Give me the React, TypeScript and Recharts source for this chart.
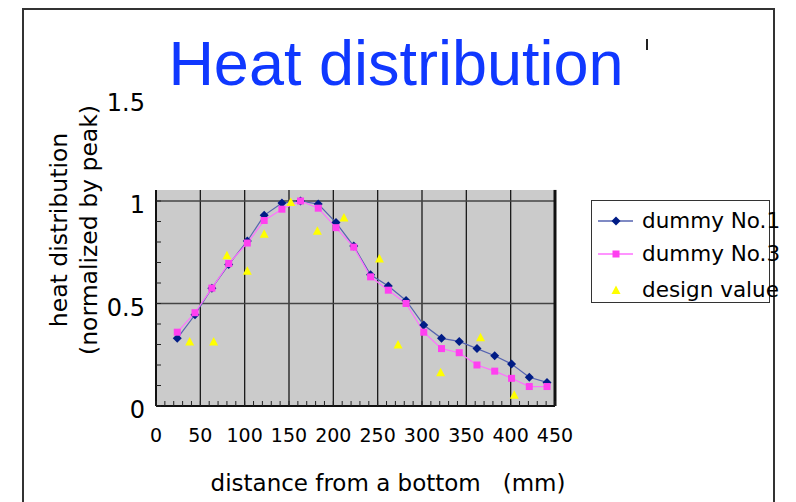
/**
 * Heat distribution chart
 * Two measured dummies against the design value, normalized by peak
 */

import {
  ComposedChart,
  Legend,
  Line,
  ReferenceArea,
  ReferenceLine,
  Scatter,
  XAxis,
  YAxis,
} from "recharts"

/******************************************************************************
                              Data
******************************************************************************/

const positions = [
  24, 44, 63, 82, 103, 122, 142, 163, 183, 203, 223, 242, 262, 282, 302, 322,
  342, 362, 382, 401, 421, 441,
]
const dummy1 = [
  0.33, 0.445, 0.575, 0.69, 0.805, 0.93, 0.99, 1.0, 0.985, 0.895, 0.78, 0.64,
  0.585, 0.515, 0.395, 0.33, 0.315, 0.28, 0.245, 0.205, 0.14, 0.115,
]
const dummy3 = [
  0.36, 0.455, 0.575, 0.695, 0.795, 0.905, 0.96, 1.0, 0.965, 0.87, 0.775, 0.63,
  0.565, 0.5, 0.36, 0.28, 0.26, 0.2, 0.17, 0.135, 0.095, 0.095,
]
const designPositions = [38, 65, 80, 103, 122, 152, 182, 212, 252, 273, 321, 366, 404]
const designValues = [
  0.315, 0.315, 0.735, 0.66, 0.84, 0.995, 0.855, 0.92, 0.72, 0.3, 0.165, 0.335,
  0.055,
]

const xTickLabels = [0, 50, 100, 150, 200, 250, 300, 350, 400, 450]
const yTickLabels = [0, 0.5, 1, 1.5]

/******************************************************************************
                              Constants
******************************************************************************/

const FONT = "'DejaVu Sans', sans-serif"
const PLOT_TOP = 1.054
const NAVY = "#001c86"
const NAVY_LINE = "#5563b0"
const PINK = "#ff40f0"
const PINK_LINE = "#ff70ff"
const YELLOW = "#ffff00"

const dummy1Data = positions.map((x, i) => ({ x, y: dummy1[i] }))
const dummy3Data = positions.map((x, i) => ({ x, y: dummy3[i] }))
const designData = designPositions.map((x, i) => ({ x, y: designValues[i] }))

const xMinor = Array.from({ length: 46 }, (_, i) => i * 10)
const yMinor = [...Array.from({ length: 11 }, (_, i) => i / 10), 1.5]

/******************************************************************************
                              Markers
******************************************************************************/

function diamond(props: any) {
  const { cx, cy, index } = props
  if (cx == null || cy == null) return <g key={`d1-${index}`} />
  const r = 4.5
  return (
    <path
      key={`d1-${index}`}
      d={`M${cx},${cy - r}L${cx + r},${cy}L${cx},${cy + r}L${cx - r},${cy}Z`}
      fill={NAVY}
    />
  )
}

function square(props: any) {
  const { cx, cy, index } = props
  if (cx == null || cy == null) return <g key={`d3-${index}`} />
  return <rect key={`d3-${index}`} x={cx - 3.5} y={cy - 3.5} width={7} height={7} fill={PINK} />
}

function triangle(props: any) {
  const { cx, cy } = props
  if (cx == null || cy == null) return <g />
  return (
    <path
      d={`M${cx},${cy - 4.5}L${cx + 4.5},${cy + 4}L${cx - 4.5},${cy + 4}Z`}
      fill={YELLOW}
    />
  )
}

/******************************************************************************
                              Axis ticks
******************************************************************************/

function XTick(props: any) {
  const { x, y, payload } = props
  const v = payload.value
  return (
    <g>
      <line x1={x} x2={x} y1={y} y2={y - 5} stroke="#222" />
      {xTickLabels.includes(v) && (
        <text x={x} y={y + 36} textAnchor="middle" fontSize={19} fontFamily={FONT} fill="#000">
          {v}
        </text>
      )}
    </g>
  )
}

function YTick(props: any) {
  const { x, y, payload } = props
  const v = payload.value
  return (
    <g>
      {v <= 1 && <line x1={x} x2={x + 5} y1={y} y2={y} stroke="#222" />}
      {yTickLabels.includes(v) && (
        <text x={x - 11} y={y + 12} textAnchor="end" fontSize={24} fontFamily={FONT} fill="#000">
          {v}
        </text>
      )}
    </g>
  )
}

/******************************************************************************
                              Legend
******************************************************************************/

const legendItems = [
  { name: "dummy No.1", line: NAVY_LINE, marker: "diamond" },
  { name: "dummy No.3", line: PINK_LINE, marker: "square" },
  { name: "design value", line: "none", marker: "triangle" },
]

function LegendBox() {
  const rows = [20, 53, 89]
  return (
    <div
      style={{
        position: "relative",
        width: 179,
        height: 103,
        boxSizing: "border-box",
        border: "1.5px solid #333",
        background: "#fff",
        fontFamily: FONT,
        fontSize: 21.5,
        whiteSpace: "nowrap",
      }}
    >
      {legendItems.map((item, i) => (
        <div key={item.name} style={{ position: "absolute", left: 0, top: rows[i] - 16, height: 32 }}>
          <svg width={44} height={32} style={{ position: "absolute", left: 6, top: 0 }}>
            {item.line !== "none" && <line x1={0} x2={35} y1={16} y2={16} stroke={item.line} strokeWidth={1.5} />}
            {item.marker === "diamond" && <path d="M18,11.5L22.5,16L18,20.5L13.5,16Z" fill={NAVY} />}
            {item.marker === "square" && <rect x={14.5} y={12.5} width={7} height={7} fill={PINK} />}
            {item.marker === "triangle" && <path d="M18,11.5L22.5,20L13.5,20Z" fill={YELLOW} />}
          </svg>
          <span style={{ position: "absolute", left: 50, top: 2, lineHeight: "28px" }}>{item.name}</span>
        </div>
      ))}
    </div>
  )
}

/******************************************************************************
                              Components
******************************************************************************/

export default function App() {
  return (
    <div
      style={{
        position: "absolute",
        left: 0,
        top: 0,
        width: 796,
        height: 502,
        overflow: "hidden",
        background: "#fff",
      }}
    >
      <div
        style={{
          position: "absolute",
          left: 22,
          top: 8,
          width: 753,
          height: 600,
          boxSizing: "border-box",
          border: "2px solid #333",
        }}
      />
      <div
        style={{
          position: "absolute",
          left: 0,
          width: 792,
          top: 32,
          textAlign: "center",
          fontFamily: "'Liberation Sans', Arial, sans-serif",
          fontSize: 63,
          lineHeight: "63px",
          color: "#1038ff",
        }}
      >
        Heat distribution
      </div>
      <div style={{ position: "absolute", left: 646, top: 39, width: 1.5, height: 11, background: "#222" }} />
      <div style={{ position: "absolute", left: 0, top: 0 }}>
        <ComposedChart
          width={796}
          height={502}
          margin={{ top: 98.5, right: 241, bottom: 36, left: 96 }}
        >
          <ReferenceArea x1={0} x2={450} y1={0} y2={PLOT_TOP} fill="#cbcbcb" fillOpacity={1} stroke="none" />
          {xTickLabels.slice(1, -1).map((v) => (
            <ReferenceLine
              key={v}
              segment={[
                { x: v, y: 0 },
                { x: v, y: PLOT_TOP },
              ]}
              stroke="#1a1a1a"
              strokeWidth={1.3}
            />
          ))}
          <ReferenceLine y={0.5} stroke="#444" strokeWidth={1.5} />
          <ReferenceLine y={1} stroke="#444" strokeWidth={1.5} />
          <ReferenceLine
            segment={[
              { x: 0, y: 0 },
              { x: 0, y: PLOT_TOP },
            ]}
            stroke="#111"
            strokeWidth={2}
          />
          <ReferenceLine
            segment={[
              { x: 450, y: 0 },
              { x: 450, y: PLOT_TOP },
            ]}
            stroke="#111"
            strokeWidth={3}
          />
          <XAxis
            type="number"
            dataKey="x"
            domain={[0, 450]}
            ticks={xMinor}
            interval={0}
            height={60}
            tickSize={0}
            tickMargin={0}
            tickLine={false}
            axisLine={{ stroke: "#111", strokeWidth: 2 }}
            tick={<XTick />}
            label={{
              content: () => (
                <text x={388} y={491} textAnchor="middle" fontFamily={FONT} fontSize={23} fill="#000">
                  {"distance from a bottom\u00a0\u00a0 (mm)"}
                </text>
              ),
            }}
          />
          <YAxis
            type="number"
            domain={[0, 1.5]}
            ticks={yMinor}
            interval={0}
            width={60}
            tickSize={0}
            tickMargin={0}
            tickLine={false}
            axisLine={false}
            tick={<YTick />}
            label={{
              content: () => (
                <g fontFamily={FONT} fontSize={23.5} fill="#000">
                  <text x={67} y={230} textAnchor="middle" transform="rotate(-90 67 230)">
                    heat distribution
                  </text>
                  <text x={97} y={230} textAnchor="middle" transform="rotate(-90 97 230)">
                    (normalized by peak)
                  </text>
                </g>
              ),
            }}
          />
          <Legend
            layout="vertical"
            align="center"
            verticalAlign="middle"
            wrapperStyle={{ left: 591, top: 200, width: 179, height: 103 }}
            content={() => <LegendBox />}
          />
          <Line
            data={dummy1Data}
            dataKey="y"
            name="dummy No.1"
            type="linear"
            stroke={NAVY_LINE}
            strokeWidth={1.2}
            dot={diamond}
            activeDot={false}
            isAnimationActive={false}
          />
          <Line
            data={dummy3Data}
            dataKey="y"
            name="dummy No.3"
            type="linear"
            stroke={PINK_LINE}
            strokeWidth={1.2}
            dot={square}
            activeDot={false}
            isAnimationActive={false}
          />
          <Scatter
            data={designData}
            dataKey="y"
            name="design value"
            fill={YELLOW}
            shape={triangle}
            isAnimationActive={false}
          />
        </ComposedChart>
      </div>
    </div>
  )
}
